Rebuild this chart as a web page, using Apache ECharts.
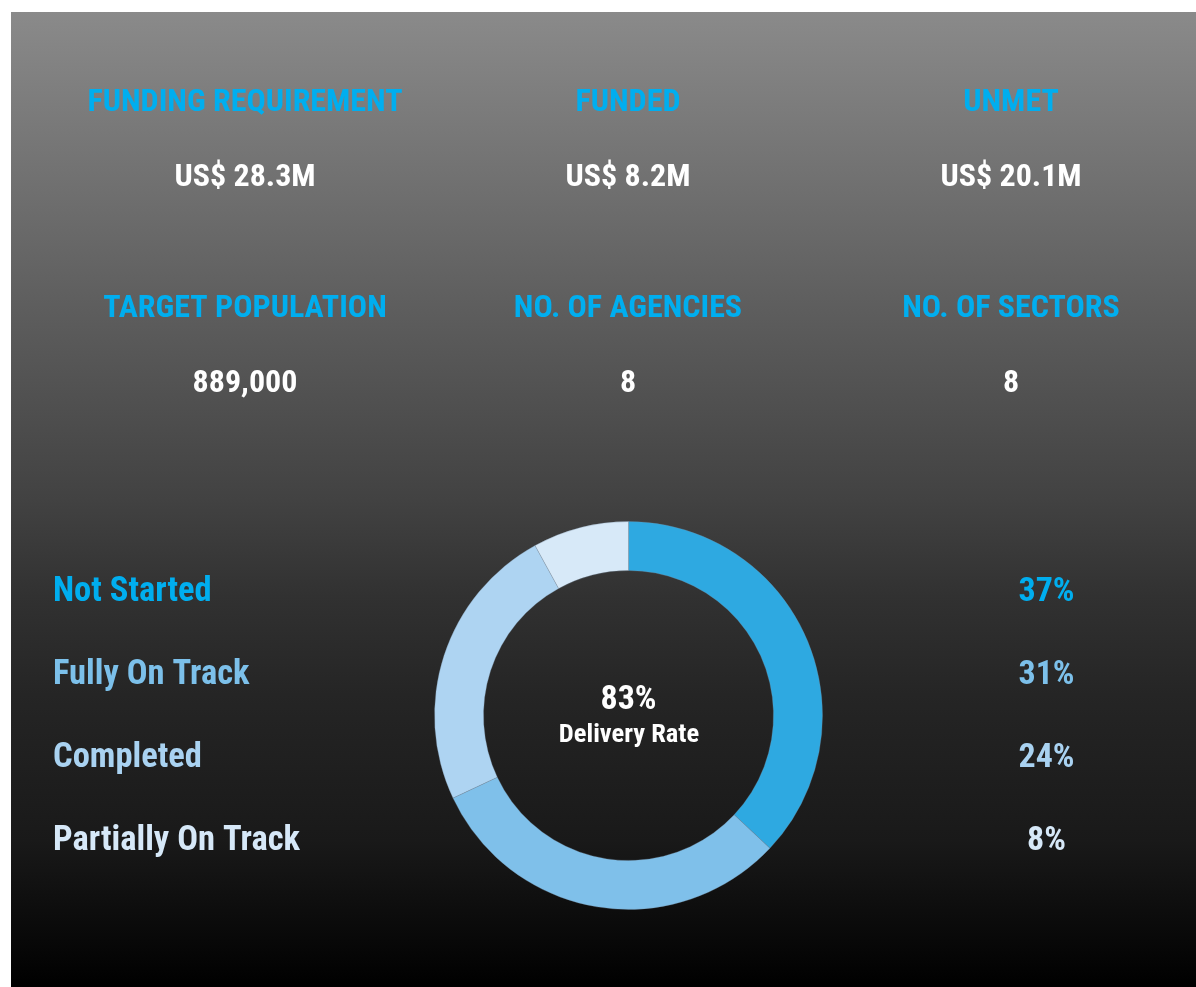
<!DOCTYPE html>
<html>
<head>
<meta charset="utf-8">
<script src="https://cdn.jsdelivr.net/npm/echarts@6/dist/echarts.min.js"></script>
<style>
html,body{margin:0;padding:0;background:#fff;}
#c{width:1196px;height:987px;}
</style>
</head>
<body>
<div id="c"></div>
<script>
const statTitles = ['FUNDING REQUIREMENT', 'FUNDED', 'UNMET', 'TARGET POPULATION', 'NO. OF AGENCIES', 'NO. OF SECTORS'];
const statValues = ['US$ 28.3M', 'US$ 8.2M', 'US$ 20.1M', '889,000', '8', '8'];
const categories = ['Not Started', 'Fully On Track', 'Completed', 'Partially On Track'];
const shares = [37, 31, 24, 8];
const sliceColors = ['#2ea9e1', '#7fc0ea', '#aed4f2', '#d7e9f8'];
const textColors = ['#00aeef', '#7cc0ea', '#a9d2f1', '#d6e8f8'];
const centerValue = '83%';
const centerLabel = 'Delivery Rate';

const FONT = '"Liberation Sans Narrow", "Roboto Condensed", Roboto, sans-serif';
const chart = echarts.init(document.getElementById('c'), null, {renderer: 'canvas'});

const colX = [245, 628, 1011];
const graphics = [{
  type: 'rect', left: 11, top: 12, z: -10,
  shape: {width: 1185, height: 975},
  style: {fill: new echarts.graphic.LinearGradient(0, 0, 0, 1, [
    {offset: 0, color: '#8a8a8a'},
    {offset: 0.3, color: '#5e5e5e'},
    {offset: 0.5, color: '#424242'},
    {offset: 0.6, color: '#313131'},
    {offset: 0.7, color: '#252525'},
    {offset: 0.85, color: '#191919'},
    {offset: 1, color: '#000000'}
  ])}
}];
statTitles.forEach((t, i) => {
  const x = colX[i % 3];
  const row = Math.floor(i / 3);
  graphics.push({type: 'text', x: x, y: 103 + row * 206, z: 5,
    style: {text: t, fill: '#00aeef', font: 'bold 32px ' + FONT, align: 'center', verticalAlign: 'middle'}});
  graphics.push({type: 'text', x: x, y: 178 + row * 206, z: 5,
    style: {text: statValues[i], fill: '#ffffff', font: 'bold 32px ' + FONT, align: 'center', verticalAlign: 'middle'}});
});
categories.forEach((c, i) => {
  graphics.push({type: 'text', x: 53, y: 592 + i * 83, z: 5,
    style: {text: c, fill: textColors[i], font: 'bold 34.5px ' + FONT, align: 'left', verticalAlign: 'middle'}});
  graphics.push({type: 'text', x: 1046.5, y: 592 + i * 83, z: 5,
    style: {text: shares[i] + '%', fill: textColors[i], font: 'bold 34px ' + FONT, align: 'center', verticalAlign: 'middle'}});
});
graphics.push({type: 'text', x: 628.5, y: 700, z: 5,
  style: {text: centerValue, fill: '#ffffff', font: 'bold 34px ' + FONT, align: 'center', verticalAlign: 'middle'}});
graphics.push({type: 'text', x: 629, y: 735, z: 5,
  style: {text: centerLabel, fill: '#ffffff', font: 'bold 26.5px ' + FONT, align: 'center', verticalAlign: 'middle'}});

chart.setOption({
  animation: false,
  backgroundColor: 'transparent',
  graphic: graphics,
  series: [{
    type: 'pie',
    center: [628.5, 715.5],
    radius: [145, 194],
    startAngle: 90,
    clockwise: true,
    label: {show: false},
    labelLine: {show: false},
    itemStyle: {borderColor: 'rgba(120,140,160,0.6)', borderWidth: 0.5},
    emphasis: {disabled: true},
    data: categories.map((c, i) => ({name: c, value: shares[i], itemStyle: {color: sliceColors[i]}}))
  }]
});
</script>
</body>
</html>
